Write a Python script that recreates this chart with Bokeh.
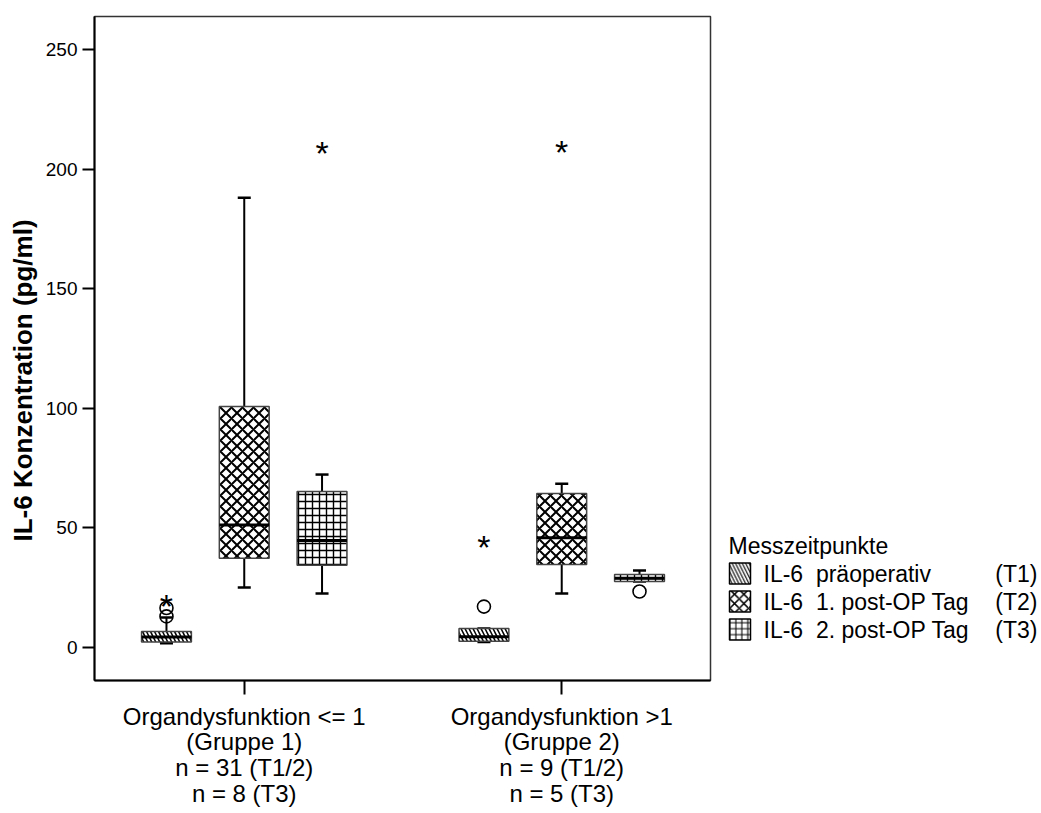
from bokeh.plotting import figure
from bokeh.models import Range1d, FixedTicker, ColumnDataSource, Title
from bokeh.layouts import row
from bokeh.embed import file_html
from bokeh.resources import INLINE
from bokeh.core.properties import value

# ---------------- data ----------------
group_labels = [
    "Organdysfunktion <= 1\n(Gruppe 1)\nn = 31 (T1/2)\nn = 8 (T3)",
    "Organdysfunktion >1\n(Gruppe 2)\nn = 9 (T1/2)\nn = 5 (T3)",
]
series_names = ["IL-6\u00a0 präoperativ", "IL-6\u00a0 1. post-OP Tag", "IL-6\u00a0 2. post-OP Tag"]
series_tags = ["(T1)", "(T2)", "(T3)"]
legend_title = "Messzeitpunkte"
y_label = "IL-6 Konzentration (pg/ml)"
y_ticks = [0, 50, 100, 150, 200, 250]

# per series: values for [Gruppe 1, Gruppe 2]
t1_low = [1.8, 2.3]
t1_q1 = [2.3, 2.6]
t1_med = [4.4, 4.5]
t1_q3 = [6.7, 7.9]
t1_high = [12.5, 7.9]

t2_low = [25.1, 22.6]
t2_q1 = [37.3, 34.7]
t2_med = [51.2, 45.9]
t2_q3 = [100.7, 64.4]
t2_high = [188.0, 68.5]

t3_low = [22.6, 27.6]
t3_q1 = [34.4, 27.6]
t3_med = [44.7, 29.0]
t3_q3 = [65.2, 30.5]
t3_high = [72.3, 32.2]

# outliers: (group 1/2, series index 0..2, value)
circle_group = [1, 1, 2, 2]
circle_series = [0, 0, 0, 2]
circle_value = [13.0, 16.5, 17.1, 23.4]

star_group = [1, 1, 2, 2]
star_series = [0, 2, 0, 1]
star_value = [20.0, 209.2, 44.5, 209.6]

# ---------------- layout constants ----------------
FONT = "Liberation Sans"
offsets = [-0.245, 0.0, 0.245]
box_w = 0.157
cap_w = 0.041
hatches = ["left_diagonal_line", "diagonal_cross", "cross"]
hatch_scales = [8, 11, 7]
hatch_weights = [1.5, 2.0, 1.4]

p = figure(width=720, height=813, output_backend="svg", toolbar_location=None,
           x_range=Range1d(0.5283, 2.4686), y_range=Range1d(-13.8, 263.8),
           min_border_left=93, min_border_right=10, min_border_top=16,
           min_border_bottom=133)
p.xgrid.visible = False
p.ygrid.visible = False
p.outline_line_color = "#333333"
p.outline_line_width = 1.5
p.background_fill_color = "white"
p.border_fill_color = "white"

stats = [
    (t1_low, t1_q1, t1_med, t1_q3, t1_high),
    (t2_low, t2_q1, t2_med, t2_q3, t2_high),
    (t3_low, t3_q1, t3_med, t3_q3, t3_high),
]

groups_x = [1, 2]
for si, (lo, q1, med, q3, hi) in enumerate(stats):
    xs = [g + offsets[si] for g in groups_x]
    src = ColumnDataSource(dict(
        x=xs, lo=lo, q1=q1, med=med, q3=q3, hi=hi,
        xl=[x - box_w / 2 for x in xs], xr=[x + box_w / 2 for x in xs],
        cl=[x - cap_w / 2 for x in xs], cr=[x + cap_w / 2 for x in xs],
    ))
    p.segment(x0="x", y0="q3", x1="x", y1="hi", source=src, line_color="black", line_width=2)
    p.segment(x0="x", y0="lo", x1="x", y1="q1", source=src, line_color="black", line_width=2)
    p.segment(x0="cl", y0="hi", x1="cr", y1="hi", source=src, line_color="black", line_width=2.5)
    p.segment(x0="cl", y0="lo", x1="cr", y1="lo", source=src, line_color="black", line_width=2.5)
    p.vbar(x="x", width=box_w, bottom="q1", top="q3", source=src,
           fill_color="white", line_color="#444444", line_width=1.5,
           hatch_pattern=hatches[si], hatch_color="black",
           hatch_scale=hatch_scales[si], hatch_weight=hatch_weights[si])
    p.segment(x0="xl", y0="med", x1="xr", y1="med", source=src, line_color="black", line_width=3)

csrc = ColumnDataSource(dict(
    x=[g + offsets[s] for g, s in zip(circle_group, circle_series)], y=circle_value))
p.scatter(x="x", y="y", source=csrc, marker="circle", size=13, fill_color=None,
          line_color="black", line_width=1.6)

ssrc = ColumnDataSource(dict(
    x=[g + offsets[s] for g, s in zip(star_group, star_series)], y=star_value,
    t=["*"] * len(star_value)))
p.text(x="x", y="y", text="t", source=ssrc, text_font=value(FONT), text_font_size="34px",
       text_align="center", text_baseline="alphabetic", y_offset=6, text_color="black")

# axes
p.yaxis.ticker = FixedTicker(ticks=y_ticks)
p.yaxis.minor_tick_line_color = None
p.yaxis.major_tick_out = 12
p.yaxis.major_tick_in = 0
p.yaxis.major_tick_line_width = 2
p.yaxis.axis_line_width = 2
p.yaxis.major_label_text_font = FONT
p.yaxis.major_label_text_font_size = "19px"
p.yaxis.major_label_text_color = "black"
p.yaxis.major_label_standoff = 5

ytitle = Title(text=y_label, align="left", offset=139, text_font=FONT,
               text_font_style="bold", text_font_size="26px", text_color="black",
               standoff=10)
p.add_layout(ytitle, "left")

p.xaxis.ticker = FixedTicker(ticks=groups_x)
p.xaxis.major_label_overrides = {g: lab for g, lab in zip(groups_x, group_labels)}
p.xaxis.minor_tick_line_color = None
p.xaxis.major_tick_out = 14
p.xaxis.major_tick_in = 0
p.xaxis.major_tick_line_width = 2
p.xaxis.axis_line_width = 2
p.xaxis.major_label_text_font = FONT
p.xaxis.major_label_text_font_size = "24px"
p.xaxis.major_label_text_color = "black"
p.xaxis.major_label_standoff = 8
p.xaxis.major_label_text_line_height = 0.96

# ---------------- legend panel ----------------
lg = figure(width=321, height=813, output_backend="svg", toolbar_location=None,
            x_range=Range1d(720, 1041), y_range=Range1d(680, 16),
            x_axis_location=None, y_axis_location=None,
            min_border=0, min_border_left=0, min_border_right=0,
            min_border_top=16, min_border_bottom=133)
lg.xgrid.visible = False
lg.ygrid.visible = False
lg.outline_line_color = None

row_y = [573, 601, 629]
for si in range(3):
    lg.rect(x=[739.5], y=[row_y[si]], width=21, height=21, fill_color="white",
            line_color="black", line_width=1.5, hatch_pattern=hatches[si],
            hatch_color="black", hatch_scale=hatch_scales[si] * 0.85,
            hatch_weight=hatch_weights[si] * 0.75)
lg.text(x=[763] * 3, y=row_y, text=series_names, text_font=value(FONT),
        text_font_size="23px", text_baseline="middle", text_color="black")
lg.text(x=[1037] * 3, y=row_y, text=series_tags, text_font=value(FONT),
        text_font_size="23px", text_baseline="middle", text_align="right", text_color="black")
lg.text(x=[728], y=[545], text=[legend_title], text_font=value(FONT),
        text_font_size="23px", text_baseline="middle", text_color="black")

layout = row(p, lg)
open("out.html", "w").write(file_html(layout, INLINE))
